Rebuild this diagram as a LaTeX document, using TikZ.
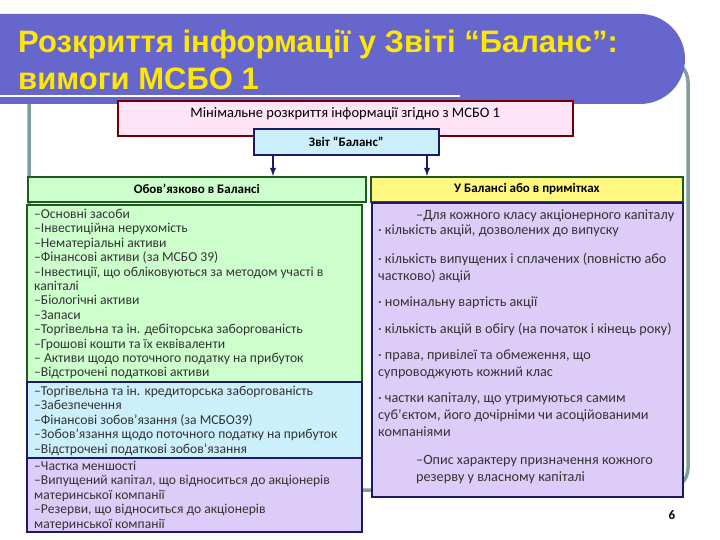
\documentclass[tikz,border=0pt]{standalone}
\usepackage{fontspec}
\setmainfont{Carlito}
\newfontfamily\titlefont{Liberation Sans}
\begin{document}
\begin{tikzpicture}[x=1pt,y=-1pt,
  box/.style={line width=1.6pt},
  txt/.style={anchor=north west,inner sep=0pt,align=flush left,font=\fontsize{13.6}{14.4}\selectfont,text=black!80},
  rtxt/.style={anchor=north west,inner sep=0pt,align=flush left,text width=300pt,font=\fontsize{14.2}{17.5}\selectfont,text=black!80}]
\definecolor{tband}{HTML}{6666CC}
\definecolor{frame}{HTML}{7F9F9C}
\definecolor{dgreen}{HTML}{1E5A1E}
\definecolor{navy}{HTML}{1A1A66}
\definecolor{lilac}{HTML}{DDCCF7}
\useasboundingbox (0,0) rectangle (720,540);
\fill[white] (0,0) rectangle (720,540);
% frame
\draw[frame,line width=3.5pt,rounded corners=22pt] (29,60) rectangle (688,490);
% title band
\fill[tband] (0,14) -- (640,14) arc[start angle=-90,end angle=90,radius=45] -- (0,104) -- cycle;
\draw[white,line width=1.5pt] (0,96) -- (460,96);
\node[anchor=west,font=\titlefont\bfseries\fontsize{31}{37}\selectfont,text=yellow!90!orange,align=left,inner sep=0pt] (title) at (18,60) {Розкриття інформації у Звіті “Баланс”:\\вимоги МСБО 1};
% pink
\node[box,draw=red!45!black,fill=pink!60!magenta!20,minimum width=455pt,minimum height=35pt,anchor=north west,text depth=12pt,font=\fontsize{14.5}{16}\selectfont] (pink) at (117,100) {Мінімальне розкриття інформації згідно з МСБО 1};
\node[box,draw=navy,fill=cyan!20,minimum width=185pt,minimum height=26pt,anchor=north west,font=\bfseries\fontsize{13}{15}\selectfont] (zvit) at (253,128) {Звіт “Баланс”};
\node[box,draw=dgreen,fill=green!20,minimum width=338pt,minimum height=25pt,anchor=north west,font=\bfseries\fontsize{13}{15}\selectfont] (oh) at (27,176) {Обов’язково в Балансі};
\node[box,draw=dgreen,fill=yellow!50,minimum width=312pt,minimum height=25pt,anchor=north west,font=\bfseries\fontsize{13}{15}\selectfont] (uh) at (370,176) {У Балансі або в примітках};
\coordinate (a1) at (273,154);\coordinate (b1) at (273,176);
\coordinate (a2) at (427,154);\coordinate (b2) at (427,176);
\draw[navy,line width=1.8pt,-latex] (a1) -- (b1);
\draw[navy,line width=1.8pt,-latex] (a2) -- (b2);
% left boxes
\draw[box,draw=dgreen,fill=green!20] (27,205) rectangle (362,382);
\draw[box,draw=navy,fill=cyan!20] (27,382) rectangle (362,458);
\draw[box,draw=navy,fill=lilac] (27,458) rectangle (362,532);
\node[txt] (l1) at (34,209) {–Основні засоби\\–Інвестиційна нерухомість\\–Нематеріальні активи\\–Фінансові активи (за МСБО 39)\\–Інвестиції, що обліковуються за методом участі в\\капіталі\\–Біологічні активи\\–Запаси\\–Торгівельна та ін. дебіторська заборгованість\\–Грошові кошти та їх еквіваленти\\– Активи щодо поточного податку на прибуток\\–Відстрочені податкові активи};
\node[txt] (l2) at (34,386) {–Торгівельна та ін. кредиторська заборгованість\\–Забезпечення\\–Фінансові зобов’язання (за МСБО39)\\–Зобов’язання щодо поточного податку на прибуток\\–Відстрочені податкові зобов’язання};
\node[txt] (l3) at (34,461) {–Частка меншості\\–Випущений капітал, що відноситься до акціонерів\\материнської компанії\\–Резерви, що відноситься до акціонерів\\материнської компанії};
% right box
\draw[box,draw=navy,fill=lilac] (372,203) rectangle (683,497);
\node[rtxt] (r0) at (378,210) {\hspace*{38pt}–Для кожного класу акціонерного капіталу\\[-3pt]· кількість акцій, дозволених до випуску};
\node[rtxt,font=\fontsize{14.2}{17}\selectfont] (r1) at (378,253) {· кількість випущених і сплачених (повністю або\\частково) акцій};
\node[rtxt] (r2) at (378,297) {· номінальну вартість акції};
\node[rtxt] (r3) at (378,323) {· кількість акцій в обігу (на початок і кінець року)};
\node[rtxt,font=\fontsize{14.2}{17}\selectfont] (r4) at (378,350) {· права, привілеї та обмеження, що\\супроводжують кожний клас};
\node[rtxt,font=\fontsize{14.2}{17}\selectfont] (r5) at (378,393) {· частки капіталу, що утримуються самим\\суб’єктом, його дочірніми чи асоційованими\\компаніями};
\node[rtxt,font=\fontsize{14.2}{17}\selectfont] (r6) at (416,455) {–Опис характеру призначення кожного\\резерву у власному капіталі};
\node[font=\bfseries\fontsize{13}{15}\selectfont] (pg) at (672,515) {6};
\end{tikzpicture}
\end{document}
